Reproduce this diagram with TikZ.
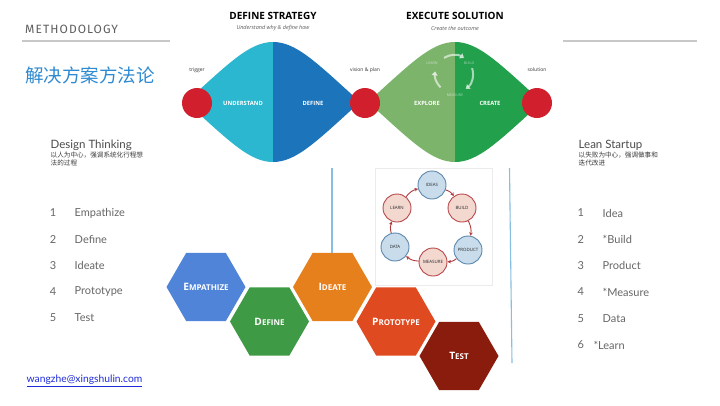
\documentclass[tikz,border=0pt]{standalone}
\usepackage{fontspec}
\setmainfont{Lato}
\newfontfamily\cjk{Noto Sans CJK SC}
\newfontfamily\osans{Open Sans}
\newfontfamily\fira{Fira Sans}[LetterSpace=9]
\usetikzlibrary{shapes.geometric,arrows.meta}
\definecolor{headgray}{HTML}{5E5E5E}
\definecolor{rulegray}{HTML}{C8C8C8}
\definecolor{titleblue}{HTML}{2E8AD1}
\definecolor{cyanA}{HTML}{2BB7CF}
\definecolor{blueA}{HTML}{1C74BB}
\definecolor{lgreen}{HTML}{7DB46C}
\definecolor{dgreen}{HTML}{22A04B}
\definecolor{ballred}{HTML}{D11F2D}
\definecolor{listgray}{HTML}{666666}
\definecolor{cjkgray}{HTML}{3A3A3A}
\definecolor{linkblue}{HTML}{1F2BD8}
\definecolor{vblue}{HTML}{86BFDF}
\definecolor{nbfill}{HTML}{C9DCEC}
\definecolor{nbdraw}{HTML}{5B87AD}
\definecolor{npfill}{HTML}{F3D8CF}
\definecolor{npdraw}{HTML}{B8474A}
\definecolor{arrred}{HTML}{B03A3A}
\definecolor{hexblue}{HTML}{4F84D8}
\definecolor{hexgreen}{HTML}{3F9A45}
\definecolor{hexorange}{HTML}{E6801D}
\definecolor{hexred}{HTML}{E04A20}
\definecolor{hexdark}{HTML}{8A1C0D}
\newcommand\hx[2]{{\fontsize{10.2}{10.2}\selectfont #1}{\fontsize{8}{8}\selectfont #2}}
\def\diapath{(-87,0) .. controls (-43,-40) and (-23,-60) .. (0,-60) .. controls (23,-60) and (43,-40) .. (87,0) .. controls (43,40) and (23,60) .. (0,60) .. controls (-23,60) and (-43,40) .. (-87,0) -- cycle}
\tikzset{
  redball/.style={circle, fill=ballred, minimum size=30pt, inner sep=0pt},
  toplab/.style={font=\osans\fontsize{5}{5}\selectfont, text=black!80, inner sep=0pt},
  inlab/.style={font=\osans\bfseries\fontsize{5.8}{5.8}\selectfont, text=white, inner sep=0pt},
  headA/.style={font=\osans\bfseries\fontsize{10}{10}\selectfont, inner sep=0pt},
  headB/.style={font=\osans\itshape\fontsize{5.5}{5.5}\selectfont, text=black!65, inner sep=0pt},
  cyc/.style={white, opacity=0.6, line width=2pt, -{Triangle[length=4pt,width=6pt]}},
  cyclab/.style={font=\osans\fontsize{3.6}{3.6}\selectfont, text=white, opacity=0.6, inner sep=0pt},
  bnode/.style={circle, fill=nbfill, draw=nbdraw, line width=0.9pt, minimum size=28pt, inner sep=0pt, font=\osans\fontsize{4.4}{4.4}\selectfont, text=black!85},
  pnode/.style={bnode, fill=npfill, draw=npdraw},
  carrow/.style={draw=arrred, line width=0.9pt, -{Stealth[length=3.5pt,width=3.5pt]}},
  vline/.style={draw=vblue, line width=1.1pt},
  hexn/.style={regular polygon, regular polygon sides=6, minimum size=79pt, inner sep=0pt, outer sep=0pt, text=white, font=\osans\bfseries},
  listn/.style={font=\fontsize{11}{11}\selectfont, text=listgray, inner sep=0pt},
  listt/.style={listn, anchor=west},
  subhead/.style={font=\fontsize{11.5}{11.5}\selectfont, text=black!70, anchor=west, inner sep=0pt},
  cjksub/.style={font=\cjk\fontsize{6.6}{8}\selectfont, text=cjkgray, anchor=north west, inner sep=0pt, align=left}
}
\begin{document}
\begin{tikzpicture}[x=1pt,y=-1pt]
\useasboundingbox (0,0) rectangle (720,405);
\fill[white] (0,0) rectangle (720,405);

% header
\node[anchor=west, font=\fira\fontsize{12}{12}\selectfont, text=headgray, inner sep=0pt] (meth) at (25,29.5) {METHODOLOGY};
\draw[rulegray, line width=1.3pt] (22,41) -- (170,41);
\draw[rulegray, line width=1.3pt] (563,41) -- (697,41);
\node[anchor=west, font=\cjk\fontsize{18.5}{18.5}\selectfont, text=titleblue, inner sep=0pt] (title) at (25,75) {解决方案方法论};

% diamonds
\begin{scope}[shift={(273,102)}]
  \clip \diapath;
  \fill[cyanA] (-95,-70) rectangle (0,70);
  \fill[blueA] (0,-70) rectangle (95,70);
\end{scope}
\begin{scope}[shift={(455,102)}]
  \clip \diapath;
  \fill[lgreen] (-95,-70) rectangle (0,70);
  \fill[dgreen] (0,-70) rectangle (95,70);
\end{scope}
\node[redball] (trig) at (197,103) {};
\node[redball] (vis) at (365,103) {};
\node[redball] (sol) at (537,103) {};
\node[toplab] (ltrig) at (197,70) {trigger};
\node[toplab] (lvis) at (365,70) {vision \& plan};
\node[toplab] (lsol) at (537,70) {solution};
\node[inlab] (und) at (243,103) {UNDERSTAND};
\node[inlab] (def) at (313,103) {DEFINE};
\node[inlab] (exp) at (427,103) {EXPLORE};
\node[inlab] (cre) at (490,103) {CREATE};
\node[headA] (h1) at (273,16) {DEFINE STRATEGY};
\node[headB] (h1s) at (273,28.5) {Understand why \& define how};
\node[headA] (h2) at (455,16) {EXECUTE SOLUTION};
\node[headB] (h2s) at (455,28.5) {Create the outcome};
% build-measure-learn arrows
\coordinate (cc) at (454,74);
\draw[cyc] (cc) ++(122:19pt) arc[start angle=122, end angle=58, radius=19pt];
\draw[cyc] (cc) ++(18:19pt) arc[start angle=18, end angle=-52, radius=19pt];
\draw[cyc] (cc) ++(225:19pt) arc[start angle=225, end angle=172, radius=19pt];
\node[cyclab] (cl) at (432,63) {LEARN};
\node[cyclab] (cb) at (469,63) {BUILD};
\node[cyclab] (cm) at (455,95) {MEASURE};

% vertical lines
\coordinate (v1t) at (332,168); \coordinate (v1b) at (332,254);
\coordinate (v2t) at (509.5,168); \coordinate (v2b) at (512,363);
\draw[vline] (v1t) -- (v1b);
\draw[vline] (v2t) -- (v2b);

% lean cycle
\draw[black!8, line width=0.6pt] (375,168) rectangle (492,285);
\node[bnode] (ideas) at (432,185) {IDEAS};
\node[pnode] (build) at (462,208) {BUILD};
\node[bnode] (product) at (468,250) {PRODUCT};
\node[pnode] (measure) at (433,262) {MEASURE};
\node[bnode] (data) at (395,247) {DATA};
\node[pnode] (learn) at (397,208) {LEARN};
\draw[carrow] (learn) to[bend left=18] (ideas);
\draw[carrow] (ideas) to[bend left=18] (build);
\draw[carrow] (build) to[bend left=18] (product);
\draw[carrow] (product) to[bend left=18] (measure);
\draw[carrow] (measure) to[bend left=18] (data);
\draw[carrow] (data) to[bend left=18] (learn);

% hexagons
\node[hexn, fill=hexblue] (emp) at (206,287) {\hx{E}{MPATHIZE}};
\node[hexn, fill=hexgreen] (dfn) at (269.5,321.5) {\hx{D}{EFINE}};
\node[hexn, fill=hexorange] (ide) at (332.5,287) {\hx{I}{DEATE}};
\node[hexn, fill=hexred] (pro) at (396,321.5) {\hx{P}{ROTOTYPE}};
\node[hexn, fill=hexdark] (tst) at (459,356) {\hx{T}{EST}};

% left column
\node[subhead] (dt) at (50.5,145) {Design Thinking};
\node[cjksub] (dtc) at (50.5,151.5) {以人为中心，强调系统化行程想\\法的过程};
\foreach \t [count=\i] in {Empathize,Define,Ideate,Prototype,Test}{
  \node[listn] (ln\i) at (53,{213+26.2*(\i-1)}) {\i};
  \node[listt] (lt\i) at (74.5,{213+26.2*(\i-1)}) {\t};
}

% right column
\node[subhead] (ls) at (578.5,145) {Lean Startup};
\node[cjksub] (lsc) at (578.5,151.5) {以失败为中心，强调做事和\\迭代改进};
\foreach \t [count=\i] in {Idea,*Build,Product,*Measure,Data}{
  \node[listn] (rn\i) at (580.7,{213+26.3*(\i-1)}) {\i};
  \node[listt] (rt\i) at (602.5,{213+26.3*(\i-1)}) {\t};
}
\node[listn] (rn6) at (580.7,345) {6};
\node[listt] (rt6) at (593.3,345) {*Learn};

% email
\node[anchor=west, text=linkblue, font=\fontsize{10.3}{10.3}\selectfont, inner sep=0pt] (mail) at (26.5,381) {\underline{wangzhe@xingshulin.com}};
\end{tikzpicture}
\end{document}
